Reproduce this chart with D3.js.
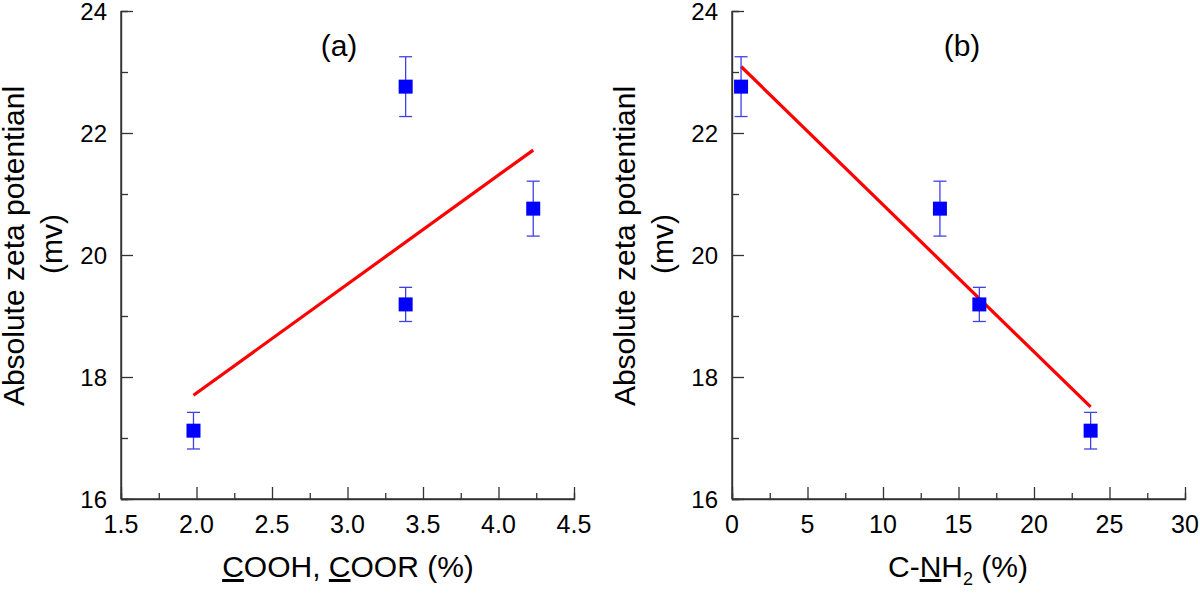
<!DOCTYPE html>
<html><head><meta charset="utf-8">
<script src="https://cdnjs.cloudflare.com/ajax/libs/d3/7.8.5/d3.min.js"></script>
<style>
body{margin:0;background:#fff;}
svg{display:block;font-family:Arial,"Liberation Sans",sans-serif;}
</style></head>
<body>
<svg id="c" width="1200" height="597"></svg>
<script>
// ---- data ----
const cooh = [1.98, 3.385, 3.385, 4.23];
const nh2 = [23.75, 0.6, 16.38, 13.77];
const zeta = [17.12, 22.76, 19.19, 20.76];
const zetaErr = [0.30, 0.49, 0.28, 0.45];
const fitA_x = [1.98, 4.23];
const fitA_y = [17.70, 21.72];
const fitB_x = [0.6, 23.75];
const fitB_y = [23.09, 17.51];
const yTicks = [16, 18, 20, 22, 24];
const yMinor = [17, 19, 21, 23];
const xTicksA = [1.5, 2.0, 2.5, 3.0, 3.5, 4.0, 4.5];
const xMinorA = [1.75, 2.25, 2.75, 3.25, 3.75, 4.25];
const xTicksB = [0, 5, 10, 15, 20, 25, 30];
const xMinorB = [2.5, 7.5, 12.5, 17.5, 22.5, 27.5];

const svg = d3.select("#c");
const axisColor = "#333";

function panel(opt){
  const g = svg.append("g");
  const x = d3.scaleLinear().domain(opt.xdom).range([opt.left, opt.left + 453]);
  const y = d3.scaleLinear().domain([16, 24]).range([499, 11]);

  const ya = g.append("g").attr("transform", `translate(${opt.left},0)`)
    .call(d3.axisRight(y).tickValues(yTicks).tickSize(12).tickFormat(""));
  ya.append("g").call(d3.axisRight(y).tickValues(yMinor).tickSize(7).tickFormat(""));
  const xa = g.append("g").attr("transform", `translate(0,499)`)
    .call(d3.axisTop(x).tickValues(opt.xt).tickSize(12).tickFormat(""));
  xa.append("g").call(d3.axisTop(x).tickValues(opt.xm).tickSize(6).tickFormat(""));
  ya.select("g").select(".domain").remove();
  xa.select("g").select(".domain").remove();
  g.selectAll(".domain").attr("stroke", axisColor).attr("stroke-width", 1.4);
  g.selectAll(".tick line").attr("stroke", axisColor).attr("stroke-width", 1.3);
  ya.select(".domain").attr("d", `M0,${y(24)}V${y(16)}`);
  xa.select(".domain").attr("d", `M${x.range()[0]},0H${x.range()[1]}`);

  g.selectAll(".ylab").data(yTicks).enter().append("text")
    .attr("x", opt.left - 14).attr("y", d => y(d) + 8.5)
    .attr("text-anchor", "end").attr("font-size", 24).attr("fill", "#000")
    .text(d => d);
  g.selectAll(".xlab").data(opt.xt).enter().append("text")
    .attr("x", d => x(d)).attr("y", 533)
    .attr("text-anchor", "middle").attr("font-size", 25).attr("fill", "#000")
    .text(opt.fmt);

  g.append("text").attr("transform", `translate(${opt.left - 97},246) rotate(-90)`)
    .attr("text-anchor", "middle").attr("font-size", 30).text("Absolute zeta potentianl");
  g.append("text").attr("transform", `translate(${opt.left - 59},244) rotate(-90)`)
    .attr("text-anchor", "middle").attr("font-size", 30).text("(mv)");

  g.append("text").attr("x", opt.titleX).attr("y", 56).attr("text-anchor", "middle")
    .attr("font-size", 30).text(opt.title);

  opt.xtitle(g.append("text").attr("x", opt.xtitleX).attr("y", 577)
    .attr("text-anchor", "middle").attr("font-size", 30));

  g.append("line")
    .attr("x1", x(opt.fx[0])).attr("y1", y(opt.fy[0]))
    .attr("x2", x(opt.fx[1])).attr("y2", y(opt.fy[1]))
    .attr("stroke", "#f00").attr("stroke-width", 3.2);

  const pts = opt.xs.map((v, i) => ({x: v, y: zeta[i], e: zetaErr[i]}));
  const eb = g.selectAll(".eb").data(pts).enter().append("g");
  const ec = "#4040e6";
  eb.append("line").attr("x1", d => x(d.x)).attr("x2", d => x(d.x))
    .attr("y1", d => y(d.y + d.e)).attr("y2", d => y(d.y - d.e))
    .attr("stroke", ec).attr("stroke-width", 1.3);
  eb.append("line").attr("x1", d => x(d.x) - 6.5).attr("x2", d => x(d.x) + 6.5)
    .attr("y1", d => y(d.y + d.e)).attr("y2", d => y(d.y + d.e))
    .attr("stroke", ec).attr("stroke-width", 1.3);
  eb.append("line").attr("x1", d => x(d.x) - 6.5).attr("x2", d => x(d.x) + 6.5)
    .attr("y1", d => y(d.y - d.e)).attr("y2", d => y(d.y - d.e))
    .attr("stroke", ec).attr("stroke-width", 1.3);
  eb.append("rect").attr("x", d => x(d.x) - 7).attr("y", d => y(d.y) - 7)
    .attr("width", 14).attr("height", 14).attr("fill", "#0000ff");
}

panel({
  left: 121, xdom: [1.5, 4.5], xt: xTicksA, xm: xMinorA, fmt: d3.format(".1f"),
  xs: cooh, fx: fitA_x, fy: fitA_y, title: "(a)", titleX: 339, xtitleX: 348,
  xtitle: t => {
    t.append("tspan").attr("text-decoration", "underline").text("C");
    t.append("tspan").text("OOH, ");
    t.append("tspan").attr("text-decoration", "underline").text("C");
    t.append("tspan").text("OOR (%)");
  }
});
panel({
  left: 732, xdom: [0, 30], xt: xTicksB, xm: xMinorB, fmt: d3.format("d"),
  xs: nh2, fx: fitB_x, fy: fitB_y, title: "(b)", titleX: 962, xtitleX: 958,
  xtitle: t => {
    t.append("tspan").text("C-");
    t.append("tspan").attr("text-decoration", "underline").text("N");
    t.append("tspan").text("H");
    t.append("tspan").attr("font-size", 18).attr("dy", 8).text("2");
    t.append("tspan").attr("dy", -8).text(" (%)");
  }
});
</script>
</body></html>
